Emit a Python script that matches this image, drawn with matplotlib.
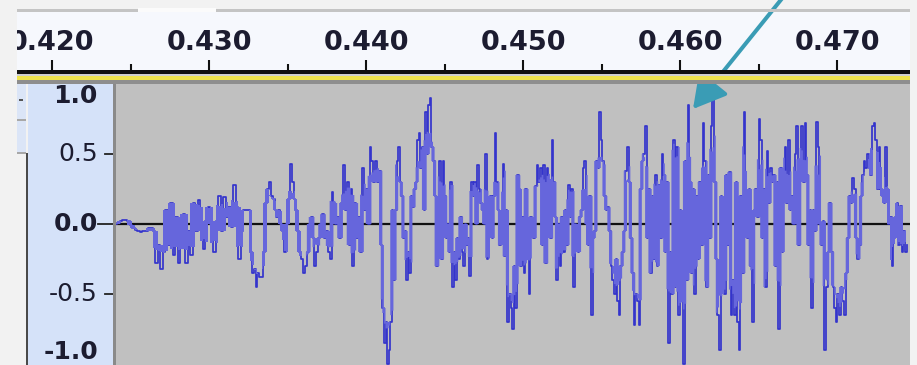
import numpy as np
import matplotlib
matplotlib.use("Agg")
import matplotlib.pyplot as plt
from matplotlib.patches import Rectangle

W, H = 917, 365

# time ruler
ruler_ticks = [0.420, 0.430, 0.440, 0.450, 0.460, 0.470]
ruler_minor = [0.425, 0.435, 0.445, 0.455, 0.465]
ruler_labels = ["0.420", "0.430", "0.440", "0.450", "0.460", "0.470"]

# amplitude scale
amp_ticks = [1.0, 0.5, 0.0, -0.5, -1.0]
amp_labels = ["1.0", "0.5", "0.0", "-0.5", "-1.0"]

# waveform, stored as consecutive chunks; chunk i spans seg_edges[i]..seg_edges[i+1] seconds
seg_edges = [0.42408, 0.43242, 0.44089, 0.44936, 0.45783, 0.46631, 0.47459]

wave_a = [0.0, 0.01, 0.02, 0.03, 0.03, 0.02, -0.01, -0.03, -0.04, -0.05, -0.06, -0.05,
          -0.05, -0.03, -0.03, -0.05, -0.28, -0.15, -0.32, -0.2, 0.1, -0.15, 0.15, -0.22,
          0.05, -0.28, -0.1, 0.07, -0.28, -0.05, -0.22, 0.15, -0.05, 0.17, 0.0, -0.18,
          0.02, 0.12, 0.0, -0.2, 0.02, 0.2, -0.05, 0.19, 0.05, 0.12, -0.02, 0.28, 0.12,
          -0.25, -0.05, 0.1]
wave_b = [0.1, 0.1, -0.2, -0.35, -0.32, -0.45, -0.35, -0.38, -0.38, -0.2, 0.15, 0.25,
          0.3, 0.2, 0.18, 0.1, 0.05, 0.1, 0.0, -0.05, -0.2, 0.0, 0.18, 0.43, 0.3, 0.18,
          0.1, -0.05, -0.2, -0.25, -0.35, -0.3, -0.2, 0.0, 0.05, -0.1, -0.3, -0.2, -0.1,
          0.0, 0.07, -0.1, -0.05, -0.2, -0.25, 0.23, 0.15, 0.0, 0.05, -0.1, 0.15, 0.42,
          0.1, 0.3, -0.15, 0.25, -0.3, 0.15, -0.1, 0.05, -0.2, 0.4, 0.1, 0.25, 0.0, 0.55,
          0.45, 0.3, 0.45, 0.3]
wave_c = [0.38, -0.15, -0.6, -0.85, -0.7, -1.0, -0.9, -0.7, 0.1, -0.4, 0.1, 0.45, 0.55,
          0.3, 0.2, -0.1, -0.05, -0.4, -0.2, -0.35, 0.2, 0.12, 0.25, 0.3, 0.6, 0.65, 0.4,
          0.55, 0.1, 0.8, 0.5, 0.85, 0.9, 0.55, 0.45, 0.2, -0.3, -0.1, 0.45, -0.25, 0.45,
          0.2, -0.1, 0.0, -0.2, 0.3, -0.45, -0.2, -0.4, -0.1, -0.25, 0.05, -0.2, -0.3,
          0.0, -0.15, -0.1, -0.37, 0.3, 0.2, 0.3, 0.0, 0.42, 0.25, 0.15, 0.1, 0.0, 0.5,
          -0.25, 0.15, 0.2, -0.1, 0.2, 0.65, 0.3, 0.1, -0.15, 0.05, 0.43, -0.23, 0.1,
          -0.7, -0.5, -0.6]
wave_d = [-0.75, -0.3, -0.6, 0.35, 0.25, -0.3, 0.05, -0.35, 0.25, -0.15, -0.5, 0.05,
          -0.07, -0.1, 0.27, 0.42, 0.3, 0.4, -0.15, 0.42, -0.28, 0.4, 0.15, -0.1, 0.6,
          0.3, 0.05, -0.4, 0.0, -0.3, 0.05, -0.2, 0.1, -0.15, 0.28, 0.05, 0.25, -0.45,
          0.0, -0.05, -0.2, 0.05, 0.1, 0.4, 0.45, 0.0, -0.15, 0.2, -0.65, -0.1, -0.05,
          0.45, 0.4, 0.8, 0.6, 0.45, 0.2, 0.1, 0.12, -0.05, -0.3, -0.4, -0.5, -0.25,
          -0.55, -0.65, -0.3, -0.2, -0.05, 0.38, 0.55, 0.3, -0.1, -0.35, -0.72, -0.5,
          -0.55, -0.72, 0.25, 0.45, 0.5]
wave_e = [0.7, -0.1, 0.25, -0.35, 0.2, -0.25, 0.35, -0.3, 0.28, -0.1, 0.5, 0.35, -0.2,
          0.3, -0.85, -0.2, -0.5, 0.6, -0.45, 0.55, -0.65, 0.1, -0.3, -1.0, 0.45, -0.4,
          0.85, 0.3, -0.35, 0.25, -0.5, 0.2, -0.25, 0.3, -0.15, 0.72, 0.45, -0.45, 0.35,
          -0.1, 0.7, 0.95, 0.3, -0.25, -0.65, -0.9, 0.2, -0.4, -0.5, 0.35, -0.15, 0.37,
          -0.65, -0.4, -0.65, 0.3, -0.7, -0.9, 0.2, -0.35, 0.8, 0.2, -0.1, 0.25, -0.3,
          -0.7, 0.1, 0.25, 0.05, 0.75, 0.6, -0.1, 0.25, -0.45, 0.52, 0.15, 0.4, 0.3,
          0.35, -0.3, 0.3]
wave_f = [-0.75, 0.4, -0.2, 0.35, 0.55, 0.15, 0.6, 0.1, 0.2, 0.0, 0.5, 0.7, -0.15, 0.45,
          0.7, 0.3, 0.72, 0.35, -0.15, 0.1, -0.6, 0.1, -0.05, 0.73, 0.55, 0.0, -0.15,
          0.02, -0.9, -0.45, -0.2, 0.15, -0.2, -0.45, -0.6, -0.7, -0.5, -0.65, -0.45,
          -0.55, -0.65, -0.35, -0.1, 0.2, 0.15, 0.33, 0.25, -0.1, -0.25, -0.15, 0.2,
          0.35, 0.45, 0.4, 0.5, 0.4, 0.35, 0.7, 0.72, 0.6, 0.25, 0.55, 0.25, 0.2, 0.15,
          0.55, 0.25, 0.0, 0.05, -0.3, -0.1, 0.05, 0.15, -0.15, 0.13, -0.2, -0.05, -0.2,
          -0.15]
wave_chunks = [wave_a, wave_b, wave_c, wave_d, wave_e, wave_f]

t = np.concatenate([np.linspace(seg_edges[i], seg_edges[i + 1], len(c), endpoint=False)
                    for i, c in enumerate(wave_chunks)])
v = np.concatenate([np.array(c, dtype=float) for c in wave_chunks])

# rms band (lighter blue), kept inside each step's min/max
win = 7
rms = np.sqrt(np.convolve(v ** 2, np.ones(win) / win, mode="same"))
pad = np.pad(v, 1, mode="edge")
loc_lo = np.minimum(np.minimum(pad[:-2], pad[1:-1]), pad[2:])
loc_hi = np.maximum(np.maximum(pad[:-2], pad[1:-1]), pad[2:])
band_lo = np.maximum(-rms, loc_lo)
band_hi = np.minimum(rms, loc_hi)


def px_box(x0, y0, x1, y1):
    return [x0 / W, 1 - y1 / H, (x1 - x0) / W, (y1 - y0) / H]


def px_rect(fig, x0, y0, x1, y1, color):
    fig.add_artist(Rectangle((x0 / W, 1 - y1 / H), (x1 - x0) / W, (y1 - y0) / H,
                             transform=fig.transFigure, color=color, lw=0))


def px_to_t(x):
    return 0.42 + (x - 52) / 15700


fig = plt.figure(figsize=(W / 100, H / 100), dpi=100, facecolor="#f2f2f2")

# top strip with scroll thumb
px_rect(fig, 17, 9, 138, 12, "#c4c4c4")
px_rect(fig, 138, 8, 216, 12, "#fbfbfb")
px_rect(fig, 216, 9, 910, 12, "#c4c4c4")

# ruler
ax_r = fig.add_axes(px_box(17, 12, 910, 70), facecolor="#f6f8fd")
ax_r.set_xlim(px_to_t(17), px_to_t(910))
ax_r.set_ylim(0, 1)
for s in ax_r.spines.values():
    s.set_visible(False)
ax_r.set_yticks([])
ax_r.set_xticks(ruler_ticks)
ax_r.set_xticks(ruler_minor, minor=True)
ax_r.tick_params(axis="x", which="major", direction="in", length=7.5, width=1.5,
                 color="#111111", labelbottom=False)
ax_r.tick_params(axis="x", which="minor", direction="in", length=4.5, width=1.5,
                 color="#111111")
for tk, lab in zip(ruler_ticks, ruler_labels):
    ax_r.text(tk, 0.47, lab, ha="center", va="center", fontsize=19.5,
              fontweight="bold", color="#1c1c30", clip_on=True)

# separator bars under the ruler
px_rect(fig, 17, 70, 910, 74, "#101010")
px_rect(fig, 17, 74, 910, 76, "#cfcfcf")
px_rect(fig, 17, 76, 910, 80, "#eee34c")
px_rect(fig, 17, 80, 910, 84, "#8e8e8e")

# track control strip on the far left
px_rect(fig, 17, 84, 26, 153, "#dbe5f7")
px_rect(fig, 17, 119, 26, 121, "#a8a8a8")
px_rect(fig, 17, 152, 26, 154, "#a8a8a8")
px_rect(fig, 19, 99, 23, 101, "#555555")
px_rect(fig, 26, 153, 28, 365, "#4a4a4a")

ylo = (224 - 365) / 140

# amplitude scale panel
ax_y = fig.add_axes(px_box(28, 84, 113, 365), facecolor="#d5e2f9")
ax_y.set_ylim(ylo, 1.0)
ax_y.set_xlim(0, 1)
ax_y.axis("off")
ax_y.add_patch(Rectangle((0, 0), 1, 1, transform=ax_y.transAxes, color="#d5e2f9", lw=0))
ytr = ax_y.get_yaxis_transform()
for val, lab in zip(amp_ticks, amp_labels):
    bold = lab in ("1.0", "0.0", "-1.0")
    va = "center"
    if val == 1.0:
        va = "top"
    elif val == -1.0:
        va = "bottom"
    ax_y.text(70 / 85, val, lab, transform=ytr, ha="right", va=va, fontsize=18,
              fontweight="bold" if bold else "normal", color="#1c1c30")
    if val in (0.5, -0.5):
        ax_y.plot([77 / 85, 1], [val, val], transform=ytr, color="#222222", lw=1.3)
    elif val == 0.0:
        ax_y.plot([70 / 85, 1], [val, val], transform=ytr, color="#222222", lw=1.3)
px_rect(fig, 113, 84, 116, 365, "#8a8a8a")

# waveform
ax = fig.add_axes(px_box(116, 84, 910, 365), facecolor="#c0c0c0")
ax.set_xlim(px_to_t(116), px_to_t(910))
ax.set_ylim(ylo, 1.0)
ax.axis("off")
ax.add_patch(Rectangle((0, 0), 1, 1, transform=ax.transAxes, color="#c0c0c0", lw=0, zorder=0))
ax.axhline(0, color="#111111", lw=1.6, zorder=1)
ax.step(t, v, where="mid", color="#3434cc", lw=1.25, zorder=2)
ax.fill_between(t, band_lo, band_hi, where=band_hi > band_lo, step="mid",
                color="#6666dc", lw=0, zorder=3)

# pointer arrow
ax.annotate("", xy=(693, H - 109), xytext=(784, H + 4),
            xycoords="figure pixels", textcoords="figure pixels",
            annotation_clip=False,
            arrowprops=dict(arrowstyle="-|>,head_length=0.8,head_width=0.45",
                            mutation_scale=25, color="#3a9cb5", lw=2.9,
                            shrinkA=0, shrinkB=0))

fig.savefig("out.png", dpi=100, facecolor=fig.get_facecolor())
